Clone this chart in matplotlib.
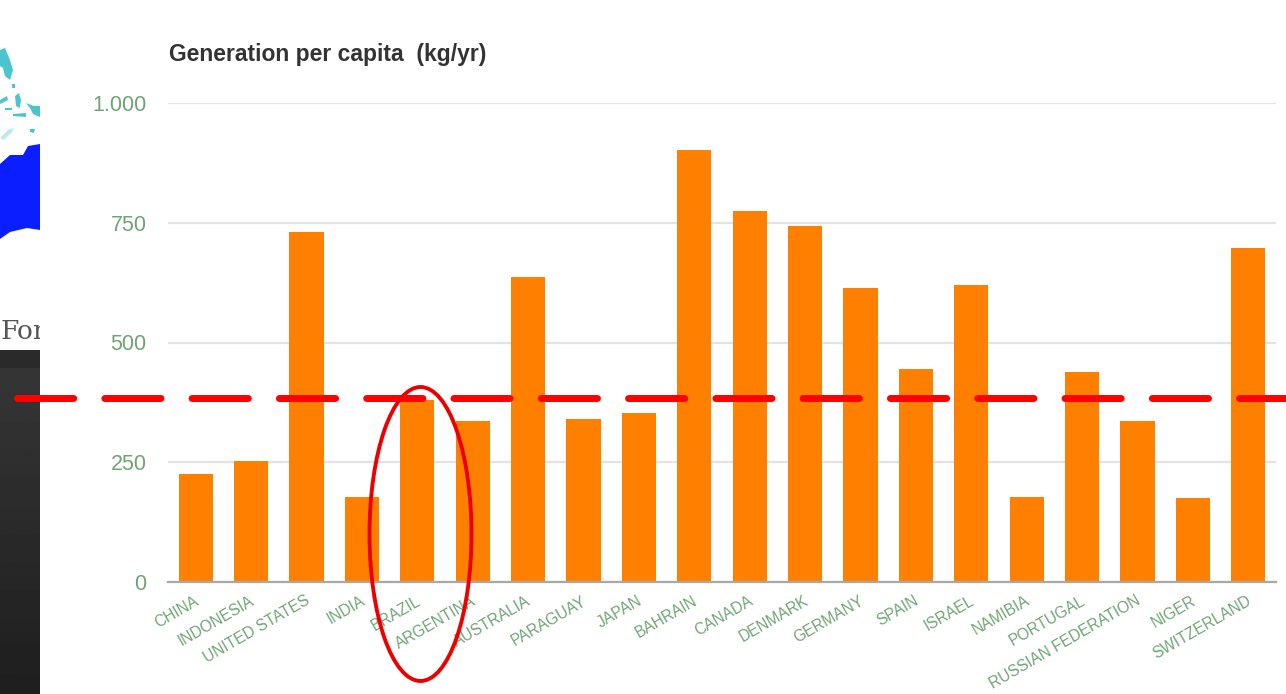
import numpy as np
import matplotlib
matplotlib.use('Agg')
import matplotlib.pyplot as plt
from matplotlib.patches import Ellipse, Polygon, Rectangle
from matplotlib.transforms import ScaledTranslation

plt.rcParams['font.family'] = ['Liberation Sans', 'DejaVu Sans']

countries = ['CHINA', 'INDONESIA', 'UNITED STATES', 'INDIA', 'BRAZIL', 'ARGENTINA',
             'AUSTRALIA', 'PARAGUAY', 'JAPAN', 'BAHRAIN', 'CANADA', 'DENMARK',
             'GERMANY', 'SPAIN', 'ISRAEL', 'NAMIBIA', 'PORTUGAL',
             'RUSSIAN FEDERATION', 'NIGER', 'SWITZERLAND']
generation = [225, 253, 731, 177, 380, 336, 637, 340, 353, 902, 775, 743,
              614, 445, 620, 177, 438, 336, 175, 697]
yticks = [0, 250, 500, 750, 1000]
yticklabels = ['0', '250', '500', '750', '1.000']

W, H = 1286, 694
GREEN = '#6fa574'

fig = plt.figure(figsize=(W / 100, H / 100), dpi=100, facecolor='white')

# bar chart, axes placed in pixels
left, right, top, bottom = 168, 1276, 103, 582
ax = fig.add_axes([left / W, 1 - bottom / H, (right - left) / W, (bottom - top) / H])
x = np.arange(len(countries))
ax.bar(x, generation, width=0.62, color='#ff8000', zorder=3)
ax.set_xlim(-0.5, len(countries) - 0.5)
ax.set_ylim(0, 1000)
ax.set_yticks(yticks)
ax.set_yticklabels(yticklabels, fontsize=15.5, color=GREEN)
ax.set_xticks(x)
ax.set_xticklabels(countries, fontsize=11.2, color=GREEN, rotation=30,
                   ha='right', rotation_mode='anchor')
ax.tick_params(axis='y', length=0, pad=15.5)
ax.tick_params(axis='x', length=0, pad=8)

# nudge the slanted labels a little to the left
nudge = ScaledTranslation(-2 / 100, 0, fig.dpi_scale_trans)
for label in ax.get_xticklabels():
    label.set_transform(label.get_transform() + nudge)

ax.grid(axis='y', color='#e3e3e3', linewidth=1.6, zorder=0)
for side in ['top', 'right', 'left']:
    ax.spines[side].set_visible(False)
ax.spines['bottom'].set_color('#a8a8a8')
ax.spines['bottom'].set_linewidth(1.6)
ax.spines['bottom'].set_zorder(4)
ax.patch.set_alpha(0)
fig.text(169 / W, 1 - 55 / H, 'Generation per capita  (kg/yr)', fontsize=16.5,
         fontweight='bold', color='#333333', va='center', ha='left')

# overlay in pixel coordinates for the slide pieces around the chart
over = fig.add_axes([0, 0, 1, 1], zorder=5)
over.axis('off')

# dark panel on the left with a vertical gradient
shade = np.linspace(0.21, 0.12, 256).reshape(-1, 1)
over.imshow(shade, extent=(0, 40, 694, 368), cmap='gray', vmin=0, vmax=1, aspect='auto')
over.add_patch(Rectangle((0, 350), 40, 18, color='#2a2a2a', lw=0))
over.set_xlim(0, W)
over.set_ylim(H, 0)

for_text = over.text(0, 331, 'For', family=['DejaVu Serif'], fontsize=19, color='#555555',
                     va='center', ha='left')
for_text.set_clip_on(True)
for_text.set_clip_path(Rectangle((0, 300), 40, 50, transform=over.transData))

# map fragment
over.add_patch(Polygon([(0, 164), (10, 155), (23, 155), (28, 146), (40, 144),
                        (40, 230), (27, 228), (10, 232), (0, 239)],
                       color='#0a1eff', lw=0))
teal_bits = [[(0, 50), (5, 48), (10, 60), (13, 70), (10, 80), (5, 76), (3, 68), (0, 66)],
             [(12, 84), (15, 84), (15, 88), (12, 88)],
             [(15, 96), (19, 93), (21, 100), (20, 108), (16, 106)],
             [(0, 100), (7, 96), (8, 100), (0, 104)],
             [(26, 103), (34, 106), (40, 106), (40, 117), (33, 114), (30, 108)],
             [(5, 108), (12, 108), (12, 110), (5, 110)],
             [(13, 114), (26, 113), (26, 117), (13, 116)],
             [(30, 129), (35, 129), (34, 133), (30, 132)]]
for bit in teal_bits:
    over.add_patch(Polygon(bit, color='#4cc4cf', lw=0))
pale_bits = [[(0, 138), (8, 130), (14, 128), (12, 132), (4, 140)]]
for bit in pale_bits:
    over.add_patch(Polygon(bit, color='#bde8ec', lw=0))

# threshold line and highlight ring
over.plot([17, 1286], [398, 398], color='#ff0000', lw=5, zorder=6,
          dashes=(8.1, 4.47), dash_capstyle='round')
over.add_patch(Ellipse((420.5, 534), 102, 294, fill=False, edgecolor='#ee0000',
                       lw=2.8, zorder=6))

fig.savefig('out.png', dpi=100)
